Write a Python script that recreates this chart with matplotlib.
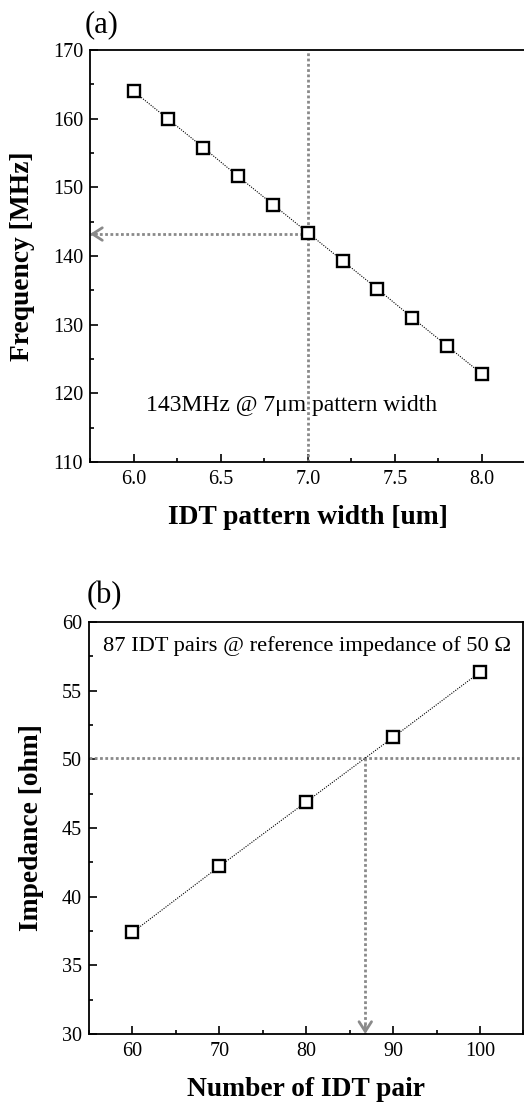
"""Two-panel IDT design figure: resonance frequency vs pattern width (a)
and impedance vs number of IDT pairs (b)."""

import matplotlib
matplotlib.use("Agg")
import matplotlib.pyplot as plt
from matplotlib.ticker import MultipleLocator

plt.rcParams["font.family"] = ["Liberation Serif", "DejaVu Serif"]

# panel (a): frequency vs IDT pattern width
width_um = [6.0, 6.2, 6.4, 6.6, 6.8, 7.0, 7.2, 7.4, 7.6, 7.8, 8.0]
freq_mhz = [164.0, 159.9, 155.8, 151.6, 147.5, 143.4, 139.3, 135.2, 131.0, 126.9, 122.8]
TARGET_WIDTH = 7.0
TARGET_FREQ = 143.2

# panel (b): impedance vs number of IDT pairs
n_pairs = [60, 70, 80, 90, 100]
impedance = [37.4, 42.2, 46.9, 51.6, 56.35]
REF_IMPEDANCE = 50.1
TARGET_PAIRS = 86.8

REF_COLOR = "#8a8a8a"
REF_DOTS = (0, (1.0, 0.9))
W, H = 524, 1103


def style_axes(ax, xmaj, xmin, ymaj, ymin):
    for s in ax.spines.values():
        s.set_linewidth(1.3)
    ax.xaxis.set_major_locator(MultipleLocator(xmaj))
    ax.xaxis.set_minor_locator(MultipleLocator(xmin))
    ax.yaxis.set_major_locator(MultipleLocator(ymaj))
    ax.yaxis.set_minor_locator(MultipleLocator(ymin))
    ax.tick_params(which="both", direction="in", width=1.2, labelsize=14.5)
    ax.tick_params(which="major", length=5.5)
    ax.tick_params(which="minor", length=3)
    ax.tick_params(axis="x", pad=6)
    ax.tick_params(axis="y", pad=5)


def data_line(ax, x, y):
    ax.plot(x, y, color="black", linestyle=(0, (1, 1.2)), linewidth=0.8, zorder=3)
    ax.plot(x, y, linestyle="none", marker="s", markersize=8,
            markerfacecolor="white", markeredgecolor="black",
            markeredgewidth=1.7, zorder=4)


def ref_arrow(ax, start, end):
    # dotted shaft, solid open head
    ax.plot([start[0], end[0]], [start[1], end[1]], color=REF_COLOR,
            linestyle=REF_DOTS, linewidth=2.0, zorder=2)
    dx = (start[0] - end[0]) * 0.03
    dy = (start[1] - end[1]) * 0.03
    ax.annotate("", xy=end, xytext=(end[0] + dx, end[1] + dy),
                arrowprops=dict(arrowstyle="->,head_length=0.7,head_width=0.45",
                                color=REF_COLOR, linewidth=2.0,
                                shrinkA=0, shrinkB=0),
                zorder=2)


fig = plt.figure(figsize=(W / 100, H / 100), dpi=100)

# ---- (a)
ax1 = fig.add_axes([90 / W, 1 - 462 / H, 435.6 / W, 412 / H])
ax1.set_xlim(5.75, 8.25)
ax1.set_ylim(110, 170)
ax1.axvline(TARGET_WIDTH, color=REF_COLOR, linestyle=REF_DOTS,
            linewidth=2.0, zorder=2)
ref_arrow(ax1, (TARGET_WIDTH, TARGET_FREQ), (5.75, TARGET_FREQ))
data_line(ax1, width_um, freq_mhz)
ax1.text(6.907, 118.2, "143MHz @ 7\u03bcm pattern width", ha="center",
         va="center", fontsize=17)
style_axes(ax1, 0.5, 0.25, 10, 5)
ax1.set_xlabel("IDT pattern width [um]", fontsize=19.8, fontweight="bold",
               labelpad=11)
ax1.set_ylabel("Frequency [MHz]", fontsize=19.8, fontweight="bold",
               labelpad=13)
fig.text(85 / W, 1 - 25 / H, "(a)", fontsize=22, ha="left", va="center")

# ---- (b)
ax2 = fig.add_axes([89 / W, 1 - 1034 / H, 434.4 / W, 412 / H])
ax2.set_xlim(55, 105)
ax2.set_ylim(30, 60)
ax2.axhline(REF_IMPEDANCE, color=REF_COLOR, linestyle=REF_DOTS,
            linewidth=2.0, zorder=2)
ref_arrow(ax2, (TARGET_PAIRS, REF_IMPEDANCE), (TARGET_PAIRS, 30))
data_line(ax2, n_pairs, impedance)
ax2.text(80.1, 58.25, "87 IDT pairs @ reference impedance of 50 \u03a9",
         ha="center", va="center", fontsize=16.2)
style_axes(ax2, 10, 5, 5, 2.5)
ax2.set_xlabel("Number of IDT pair", fontsize=19.8, fontweight="bold",
               labelpad=11)
ax2.set_ylabel("Impedance [ohm]", fontsize=19.8, fontweight="bold",
               labelpad=13)
fig.text(87 / W, 1 - 596 / H, "(b)", fontsize=22, ha="left", va="center")

fig.savefig("out.png", dpi=100)
